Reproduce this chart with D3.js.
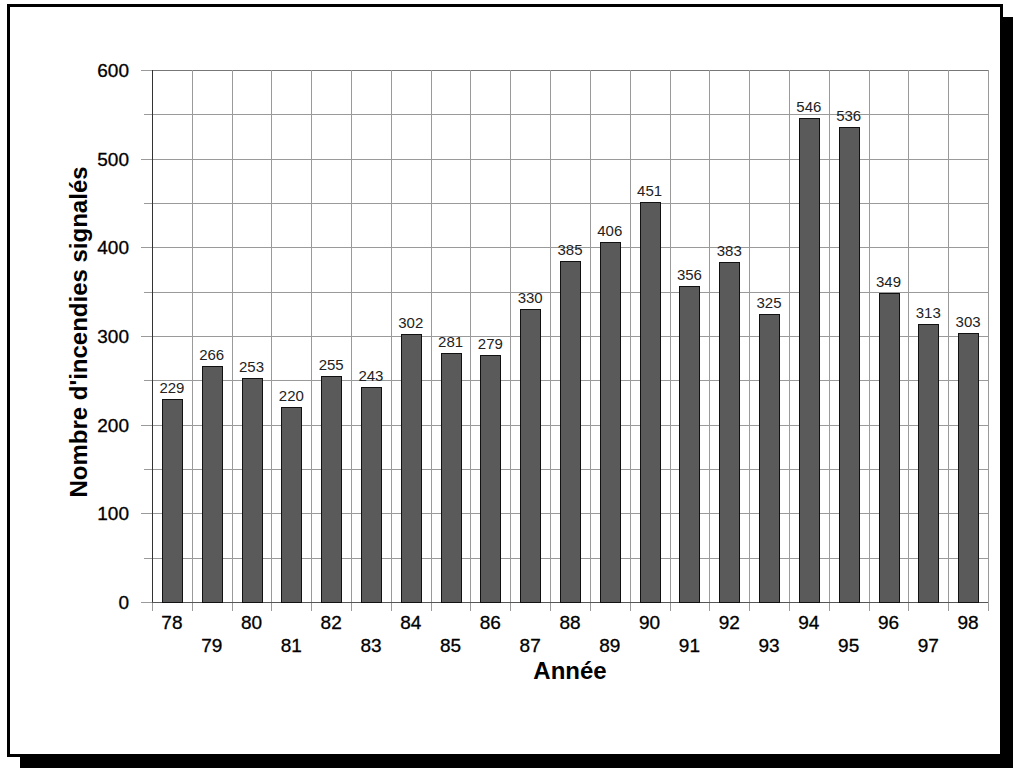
<!DOCTYPE html>
<html>
<head>
<meta charset="utf-8">
<script src="https://cdn.jsdelivr.net/npm/d3@7"></script>
<style>
html,body{margin:0;padding:0;background:#fff;}
svg{display:block;}
</style>
</head>
<body>
<svg id="chart" width="1013" height="768"></svg>
<script>
const years = ["78","79","80","81","82","83","84","85","86","87","88","89","90","91","92","93","94","95","96","97","98"];
const fires = [229,266,253,220,255,243,302,281,279,330,385,406,451,356,383,325,546,536,349,313,303];
const yTicks = [0,100,200,300,400,500,600];
const yMinorTicks = [50,150,250,350,450,550];
const yTitle = "Nombre d'incendies signalés";
const xTitle = "Année";

(function(){
const svg = d3.select("#chart");
const FONT = "'Liberation Sans', Arial, sans-serif";

// frame with shadow
svg.append("rect").attr("x",20).attr("y",17).attr("width",993).attr("height",751).attr("fill","#000");
svg.append("rect").attr("x",8.5).attr("y",5.5).attr("width",993).attr("height",750)
  .attr("fill","#fff").attr("stroke","#000").attr("stroke-width",3);

const pLeft = 152, pRight = 988, pTop = 70, pBottom = 602;
const x = d3.scaleBand().domain(years).range([pLeft,pRight]).paddingInner(0.5).paddingOuter(0.25);
const y = d3.scaleLinear().domain([0,600]).range([pBottom,pTop]);
const step = x.step();
const half = (step - x.bandwidth())/2;
const bounds = years.map(d => x(d) - half).concat([x(years[years.length-1]) + x.bandwidth() + half]);

const g = svg.append("g");
// horizontal grid
g.selectAll("line.hg").data(yTicks.concat(yMinorTicks)).join("line")
  .attr("x1",pLeft).attr("x2",pRight)
  .attr("y1",d=>Math.round(y(d))+0.5).attr("y2",d=>Math.round(y(d))+0.5)
  .attr("stroke",d=>d===600?"#777":"#9a9a9a").attr("stroke-width",1);
// vertical grid
g.selectAll("line.vg").data(bounds).join("line")
  .attr("x1",d=>Math.round(d)+0.5).attr("x2",d=>Math.round(d)+0.5)
  .attr("y1",pTop).attr("y2",pBottom)
  .attr("stroke","#9a9a9a").attr("stroke-width",1);

// y axis ticks
g.selectAll("line.yt").data(yTicks).join("line")
  .attr("x1",pLeft-11).attr("x2",pLeft)
  .attr("y1",d=>Math.round(y(d))+0.5).attr("y2",d=>Math.round(y(d))+0.5)
  .attr("stroke","#9a9a9a");
g.selectAll("line.ymt").data(yMinorTicks).join("line")
  .attr("x1",pLeft-8).attr("x2",pLeft)
  .attr("y1",d=>Math.round(y(d))+0.5).attr("y2",d=>Math.round(y(d))+0.5)
  .attr("stroke","#9a9a9a");
// x axis ticks
g.selectAll("line.xt").data(bounds).join("line")
  .attr("x1",d=>Math.round(d)+0.5).attr("x2",d=>Math.round(d)+0.5)
  .attr("y1",pBottom).attr("y2",pBottom+9)
  .attr("stroke","#9a9a9a");

// axis lines
svg.append("line").attr("x1",pLeft+0.5).attr("x2",pLeft+0.5).attr("y1",pTop).attr("y2",pBottom)
  .attr("stroke","#333");
svg.append("line").attr("x1",pLeft).attr("x2",pRight).attr("y1",pBottom+0.5).attr("y2",pBottom+0.5)
  .attr("stroke","#555");

// bars
svg.selectAll("rect.bar").data(fires).join("rect")
  .attr("x",(d,i)=>Math.round(x(years[i]))+0.5)
  .attr("y",d=>Math.round(y(d))+0.5)
  .attr("width",Math.round(x.bandwidth()))
  .attr("height",d=>Math.round(pBottom) - Math.round(y(d)))
  .attr("fill","#5a5a5a").attr("stroke","#111").attr("stroke-width",1);

// value labels
svg.selectAll("text.val").data(fires).join("text")
  .attr("x",(d,i)=>x(years[i]) + x.bandwidth()/2)
  .attr("y",d=>y(d)-6)
  .attr("text-anchor","middle")
  .attr("font-family",FONT).attr("font-size",15).attr("fill","#222")
  .text(d=>d);

// y tick labels
svg.selectAll("text.yl").data(yTicks).join("text")
  .attr("x",pLeft-23).attr("y",d=>y(d)+7)
  .attr("text-anchor","end")
  .attr("font-family",FONT).attr("font-size",19).attr("fill","#000")
  .attr("stroke","#000").attr("stroke-width",0.3)
  .text(d=>d);

// x tick labels (alternating rows)
svg.selectAll("text.xl").data(years).join("text")
  .attr("x",d=>x(d)+x.bandwidth()/2)
  .attr("y",(d,i)=> i%2===0 ? 629 : 652)
  .attr("text-anchor","middle")
  .attr("font-family",FONT).attr("font-size",19).attr("fill","#000")
  .attr("stroke","#000").attr("stroke-width",0.3)
  .text(d=>d);

// titles
svg.append("text").attr("x",(pLeft+pRight)/2).attr("y",679)
  .attr("text-anchor","middle").attr("font-family",FONT).attr("font-weight","bold")
  .attr("font-size",24).attr("fill","#000").text(xTitle);
svg.append("text").attr("transform","translate(87,332) rotate(-90)")
  .attr("text-anchor","middle").attr("font-family",FONT).attr("font-weight","bold")
  .attr("font-size",24).attr("fill","#000").text(yTitle);
})();
</script>
</body>
</html>
